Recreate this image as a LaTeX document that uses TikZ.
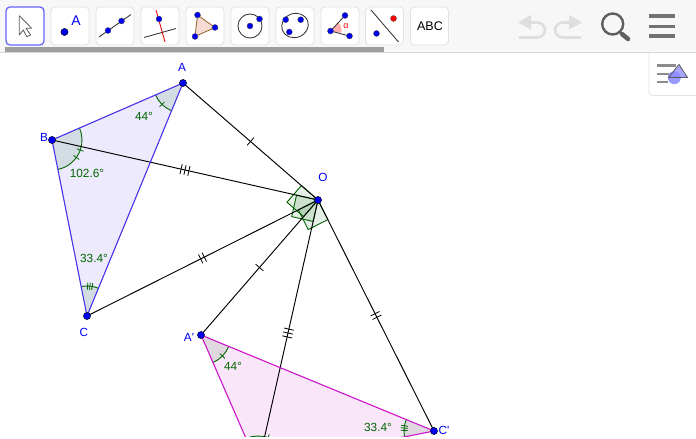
\documentclass[tikz,border=0pt]{standalone}
\usepackage{fontspec}
\newfontfamily\lab{Liberation Sans}
\usetikzlibrary{decorations.markings,calc}
\definecolor{gg}{RGB}{0,100,0}
\definecolor{bluept}{RGB}{0,0,240}
\definecolor{triblue}{RGB}{70,50,235}
\definecolor{trimag}{RGB}{205,20,205}
\definecolor{barbg}{RGB}{247,247,247}
\definecolor{barline}{RGB}{215,215,215}
\definecolor{btnline}{RGB}{225,225,225}
\definecolor{iconline}{RGB}{95,95,95}
\definecolor{undog}{RGB}{222,222,222}
\tikzset{
  x=1pt,y=1pt,
  seg/.style={draw=black,line width=0.95pt},
  tri/.style={line width=1.1pt},
  pt/.style={circle,fill=bluept,draw=black,line width=0.4pt,inner sep=0pt,minimum size=7.2pt},
  ipt/.style={circle,fill=bluept,draw=black!70,line width=0.3pt,inner sep=0pt,minimum size=6pt},
  glabel/.style={text=gg,font=\lab\fontsize{11.8}{13}\selectfont,inner sep=0pt},
  blabel/.style={text=bluept,font=\lab\fontsize{11.8}{13}\selectfont,inner sep=0pt},
  rsq/.style={draw=gg,fill=gg,fill opacity=0.1,line width=0.9pt,line join=miter},
  onetick/.style={postaction={decorate},decoration={markings,mark=at position .5 with {\draw[black,line width=0.8pt] (0,-5)--(0,5);}}},
  twotick/.style={postaction={decorate},decoration={markings,mark=at position .5 with {\draw[black,line width=0.8pt] (-2,-5)--(-2,5) (2,-5)--(2,5);}}},
  threetick/.style={postaction={decorate},decoration={markings,mark=at position .5 with {\draw[black,line width=0.8pt] (-4,-5)--(-4,5) (0,-5)--(0,5) (4,-5)--(4,5);}}},
  btn/.style={draw=btnline,fill=white,rounded corners=4pt,line width=0.8pt},
  icn/.style={black!80,line width=0.85pt},
}
\newcommand{\angmark}[6]{% centre, a1, a2, radius, list of tick angles, unused
  \fill[gg,fill opacity=0.1] (#1) -- ($(#1)+(#2:#4)$) arc[start angle=#2,end angle=#3,radius=#4] -- cycle;
  \draw[gg,line width=0.9pt] ($(#1)+(#2:#4)$) arc[start angle=#2,end angle=#3,radius=#4];
  \foreach \t in {#5}{\draw[gg,line width=0.8pt] ($(#1)+(\t:#4-3.5)$) -- ($(#1)+(\t:#4+3.5)$);}
}
\begin{document}
\begin{tikzpicture}
\useasboundingbox (0,0) rectangle (696,439);
\fill[white] (0,0) rectangle (696,439);
\coordinate (A) at (183,356);
\coordinate (B) at (52,299);
\coordinate (C) at (87,123);
\coordinate (O) at (318,239);
\coordinate (A1) at (201,104);
\coordinate (B1) at (258,-27);
\coordinate (C1) at (434,8);
\begin{scope}
\clip (0,2) rectangle (696,439);
% triangles
\fill[triblue,fill opacity=0.10] (A)--(B)--(C)--cycle;
\fill[trimag,fill opacity=0.10] (A1)--(B1)--(C1)--cycle;
% right-angle squares
\draw[rsq] (O) -- ($(O)!22pt!(A)$) -- ($(O)!22pt!(A)+(O)!22pt!(A1)-(O)$) -- ($(O)!22pt!(A1)$) -- cycle;
\draw[rsq] (O) -- ($(O)!22pt!(B)$) -- ($(O)!22pt!(B)+(O)!22pt!(B1)-(O)$) -- ($(O)!22pt!(B1)$) -- cycle;
\draw[rsq] (O) -- ($(O)!22pt!(C)$) -- ($(O)!22pt!(C)+(O)!22pt!(C1)-(O)$) -- ($(O)!22pt!(C1)$) -- cycle;
% angles
\angmark{A}{203.5}{247.6}{30}{225.5}{}
\angmark{B}{-78.75}{23.5}{30}{-19.6,-35.6}{}
\angmark{C}{67.6}{101.25}{30}{80,84.4,88.8}{}
\angmark{A1}{-66.5}{-22.4}{30}{-44.4}{}
\angmark{B1}{11.25}{113.5}{30}{54.4,70.4}{}
\angmark{C1}{157.6}{191.25}{30}{170,174.4,178.8}{}
% segments
\draw[seg,onetick] (A)--(O);
\draw[seg,threetick] (B)--(O);
\draw[seg,twotick] (C)--(O);
\draw[seg,onetick] (A1)--(O);
\draw[seg,threetick] (B1)--(O);
\draw[seg,twotick] (C1)--(O);
% triangle edges
\draw[tri,triblue,line join=round] (A)--(B)--(C)--cycle;
\draw[tri,trimag,line join=round] (A1)--(B1)--(C1)--cycle;
\end{scope}
% points
\node[pt] (Ap) at (A) {};
\node[pt] (Bp) at (B) {};
\node[pt] (Cp) at (C) {};
\node[pt] (Op) at (O) {};
\node[pt] (A1p) at (A1) {};
\node[pt] (C1p) at (C1) {};
% labels
\node[blabel] (lA) at (182,372) {A};
\node[blabel] (lB) at (44,302) {B};
\node[blabel] (lC) at (84,107) {C};
\node[blabel] (lO) at (323,262) {O};
\node[blabel] (lA1) at (189,102) {A'};
\node[blabel] (lC1) at (444,9) {C'};
\node[glabel] (a1) at (144,323) {44°};
\node[glabel] (a2) at (87,266) {102.6°};
\node[glabel] (a3) at (94,181) {33.4°};
\node[glabel] (a4) at (233,73) {44°};
\node[glabel] (a5) at (378,12) {33.4°};
% toolbar (pixel coordinates, y down)
\begin{scope}[shift={(0,439)},y=-1pt]
\fill[barbg] (0,0) rectangle (696,52);
\draw[barline,line width=1pt] (0,52.5) -- (696,52.5);
\fill[black!38] (5,47) rectangle (384,52);
\draw[draw=blue!60!white,fill=white,rounded corners=4pt,line width=1.3pt] (6,7) rectangle (44,45);
\foreach \xa in {51,96,141,186,231,276,321,365.5,410.5}
  \draw[btn] (\xa,7) rectangle (\xa+38,45);
% arrow
\draw[iconline,fill=white,line width=0.8pt,line join=round] (19.3,15.7)--(31.7,28.3)--(26,28.3)--(30.7,35)--(26.7,36.7)--(23.3,30)--(19.3,35)--cycle;
% point + A
\node[pt] (ic2) at (64.5,32) {};
\node[text=bluept,font=\lab\fontsize{14}{14}\selectfont,inner sep=0pt] (ic2t) at (76,20.5) {A};
% line
\coordinate (l1) at (99,37); \coordinate (l2) at (131,14.5);
\draw[icn] (l1)--(l2);
\node[ipt] (l3) at (108,30.5) {}; \node[ipt] (l4) at (121.5,21) {};
% perpendicular
\draw[icn] (144,37.5)--(176,28.5);
\draw[red!90!black,line width=0.85pt] (156,10)--(165,42);
\node[ipt] (p1) at (159,19) {};
% triangle
\draw[draw=brown!80!black,fill=red!30!brown!22!white,line width=0.85pt] (197.5,15)--(215,27.5)--(195,36.5)--cycle;
\node[ipt] (t1) at (197.5,15) {}; \node[ipt] (t2) at (215,27.5) {}; \node[ipt] (t3) at (195,36.5) {};
% circle
\draw[icn] (250,26) circle (12);
\node[ipt] (c1) at (250,26) {}; \node[ipt] (c2) at (259.5,19) {};
% conic
\draw[icn,rotate around={20:(295,25.5)}] (295,25.5) ellipse (13.5 and 12);
\node[ipt] (e1) at (285.7,19.7) {}; \node[ipt] (e2) at (300.7,19.7) {}; \node[ipt] (e3) at (289.3,32) {};
% angle
\fill[red!45!white,fill opacity=0.7] (330.5,31)--(338,22.5) arc[start angle=-50,end angle=15,radius=10] --cycle;
\draw[icn] (345,15.5)--(330.5,31)--(349.5,36);
\node[ipt] (g1) at (345,15.5) {}; \node[ipt] (g2) at (330.5,31) {}; \node[ipt] (g3) at (349.5,36) {};
\node[text=red,font=\lab\fontsize{9}{9}\selectfont,inner sep=0pt] (g4) at (346,26) {α};
% reflect
\draw[icn] (371,10)--(398.5,42);
\node[ipt] (r1) at (376.5,33.5) {};
\node[circle,fill=red,draw=black!70,line width=0.3pt,inner sep=0pt,minimum size=6pt] (r2) at (393.5,18.5) {};
% ABC
\node[text=black,font=\lab\fontsize{12.5}{13}\selectfont,inner sep=0pt] (abc) at (430,26) {ABC};
% undo / redo
\draw[undog,line width=2.6pt] (529,22.5) -- (537,22.5) arc[start angle=-90,end angle=90,x radius=8,y radius=7.5] -- (519,37.5);
\fill[undog] (518,22.5)--(531,15)--(531,29.5)--cycle;
\draw[undog,line width=2.6pt] (571,22.5) -- (563,22.5) arc[start angle=-90,end angle=-270,x radius=8,y radius=7.5] -- (581,37.5);
\fill[undog] (582,22.5)--(569,15)--(569,29.5)--cycle;
% magnifier
\draw[iconline,line width=2.4pt] (612.7,24) circle (10.5);
\draw[iconline,line width=2pt] (619.5,32)--(622,34.5);
\draw[iconline,line width=4.5pt,line cap=round] (622,34)--(628,39);
% menu
\fill[black!55] (649,14.5) rectangle (675,18);
\fill[black!55] (649,25) rectangle (675,28.5);
\fill[black!55] (649,34.5) rectangle (675,38);
% style-bar button
\draw[draw=btnline,fill=white,rounded corners=4pt,line width=0.8pt] (649,50) -- (649,95.5) -- (700,95.5) -- (700,50);
\fill[barbg] (640,45) rectangle (696,52);
\draw[barline,line width=1pt] (640,52.5) -- (696,52.5);
\fill[black!45] (657,64.5) rectangle (676,67);
\fill[black!45] (657,73) rectangle (670,75.5);
\fill[black!45] (657,81) rectangle (668,83.5);
\fill[blue!40!white] (674.3,77.7) circle (6.5);
\draw[black!65,fill=blue!45!white,fill opacity=0.75,line width=0.8pt,line join=round] (679,64.5)--(687.5,77.5)--(668.5,77.5)--cycle;
\end{scope}
\end{tikzpicture}
\end{document}
